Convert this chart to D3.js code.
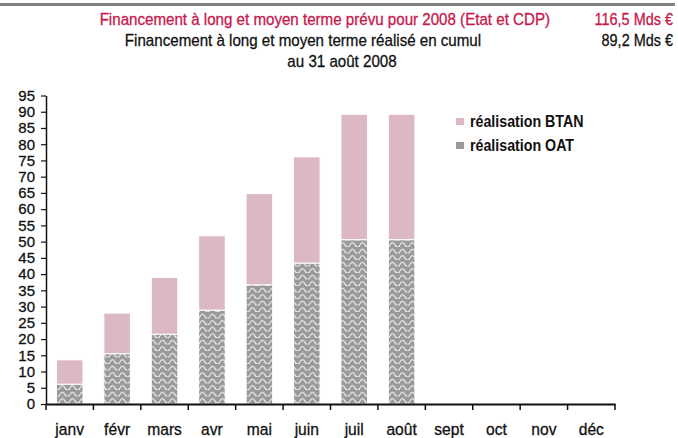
<!DOCTYPE html>
<html>
<head>
<meta charset="utf-8">
<script src="https://cdn.jsdelivr.net/npm/d3@7"></script>
<style>
  body { margin: 0; background: #fff; }
  svg { display: block; font-family: "Liberation Sans", Arial, sans-serif; }
</style>
</head>
<body>
<div id="chart"></div>
<script>
var months = ["janv", "févr", "mars", "avr", "mai", "juin", "juil", "août", "sept", "oct", "nov", "déc"];
var oat  = [6.1, 15.5, 21.5, 28.9, 36.7, 43.4, 50.6, 50.6];
var btan = [7.5, 12.5, 17.5, 22.9, 28.1, 32.7, 38.6, 38.6];
var yTicks = d3.range(0, 100, 5);
var seriesNames = ["réalisation BTAN", "réalisation OAT"];

var W = 678, H = 438;
var pink = "#dcb8c4", grey = "#9a9a9a", red = "#c8174b";

var svg = d3.select("#chart").append("svg")
    .attr("width", W).attr("height", H);

// narrow text helper (squeezed horizontally to mimic a narrow face)
function label(x, y, txt, anchor, size, sx, color, weight) {
  return svg.append("text")
      .attr("transform", "translate(" + x + "," + y + ") scale(" + sx + ",1)")
      .attr("text-anchor", anchor)
      .attr("fill", color)
      .attr("stroke", color).attr("stroke-width", weight ? 0 : 0.3)
      .style("font-size", size + "px")
      .style("font-weight", weight || "normal")
      .text(txt);
}

// wavy pattern for OAT
var defs = svg.append("defs");
var pat = defs.append("pattern")
    .attr("id", "wave")
    .attr("patternUnits", "userSpaceOnUse")
    .attr("width", 10).attr("height", 6.5);
pat.append("rect").attr("width", 10).attr("height", 6.5).attr("fill", grey);
pat.append("path")
    .attr("d", "M0,4.5 Q2.5,0 5,4.5 T10,4.5")
    .attr("fill", "none")
    .attr("stroke", "#eeeeee")
    .attr("stroke-width", 1.2);

// top rule
svg.append("line")
    .attr("x1", 0).attr("x2", 675).attr("y1", 4.5).attr("y2", 4.5)
    .attr("stroke", "#808080").attr("stroke-width", 3);

// header
label(550, 25, "Financement à long et moyen terme prévu pour 2008 (Etat et CDP)", "end", 17, 0.89, red);
label(673, 25, "116,5 Mds €", "end", 17, 0.85, red);
label(303, 46, "Financement à long et moyen terme réalisé en cumul", "middle", 17, 0.89, "#111");
label(673, 46, "89,2 Mds €", "end", 17, 0.85, "#111");
label(342, 67, "au 31 août 2008", "middle", 17, 0.89, "#111");

var x = d3.scaleBand().domain(months).range([46, 615]).padding(0);
var y = d3.scaleLinear().domain([0, 95]).range([404, 95.5]);
var bw = x.bandwidth() * 0.56;

// y axis
var ya = svg.append("g").attr("transform", "translate(46,0)")
    .call(d3.axisLeft(y).tickValues(yTicks).tickSize(5).tickSizeOuter(0));
ya.select(".domain").attr("stroke", "#111").attr("stroke-width", 1.5);
ya.selectAll(".tick line").attr("stroke", "#111").attr("stroke-width", 1.2);
ya.selectAll(".tick text").attr("x", -11).attr("fill", "#111")
    .attr("stroke", "#111").attr("stroke-width", 0.3)
    .style("font-size", "15px").style("font-family", "Liberation Sans, sans-serif");

// bars
var cols = svg.append("g");
oat.forEach(function(v, i) {
  var cx = x(months[i]) + x.bandwidth() / 2;
  cols.append("rect")
      .attr("x", cx - bw / 2).attr("width", bw)
      .attr("y", y(v)).attr("height", y(0) - y(v))
      .attr("fill", "url(#wave)")
      .attr("stroke", "#fff").attr("stroke-width", 1);
  cols.append("rect")
      .attr("x", cx - bw / 2).attr("width", bw)
      .attr("y", y(v + btan[i])).attr("height", y(v) - y(v + btan[i]))
      .attr("fill", pink)
      .attr("stroke", "#fff").attr("stroke-width", 1);
});

// x axis
var xa = svg.append("g").attr("transform", "translate(0,404)")
    .call(d3.axisBottom(x).tickSize(0).tickSizeOuter(0));
xa.select(".domain").attr("stroke", "#111").attr("stroke-width", 2);
xa.selectAll(".tick text").attr("y", 19).attr("fill", "#111")
    .attr("stroke", "#111").attr("stroke-width", 0.3)
    .attr("transform", "scale(0.92,1)")
    .style("font-size", "17px")
    .style("font-family", "Liberation Sans, sans-serif");
var bounds = months.map(function(m) { return x(m); }).concat([x.range()[1]]);
xa.selectAll(".bnd").data(bounds).enter().append("line")
    .attr("x1", function(d) { return d; }).attr("x2", function(d) { return d; })
    .attr("y1", 0).attr("y2", 6)
    .attr("stroke", "#111").attr("stroke-width", 1.5);

// legend
seriesNames.forEach(function(n, i) {
  var ly = 118 + i * 24;
  svg.append("rect").attr("x", 456).attr("y", ly).attr("width", 8).attr("height", 7)
      .attr("fill", i === 0 ? pink : grey);
  label(470, ly + 9, n, "start", 16, 0.89, "#111", "bold");
});
</script>
</body>
</html>
